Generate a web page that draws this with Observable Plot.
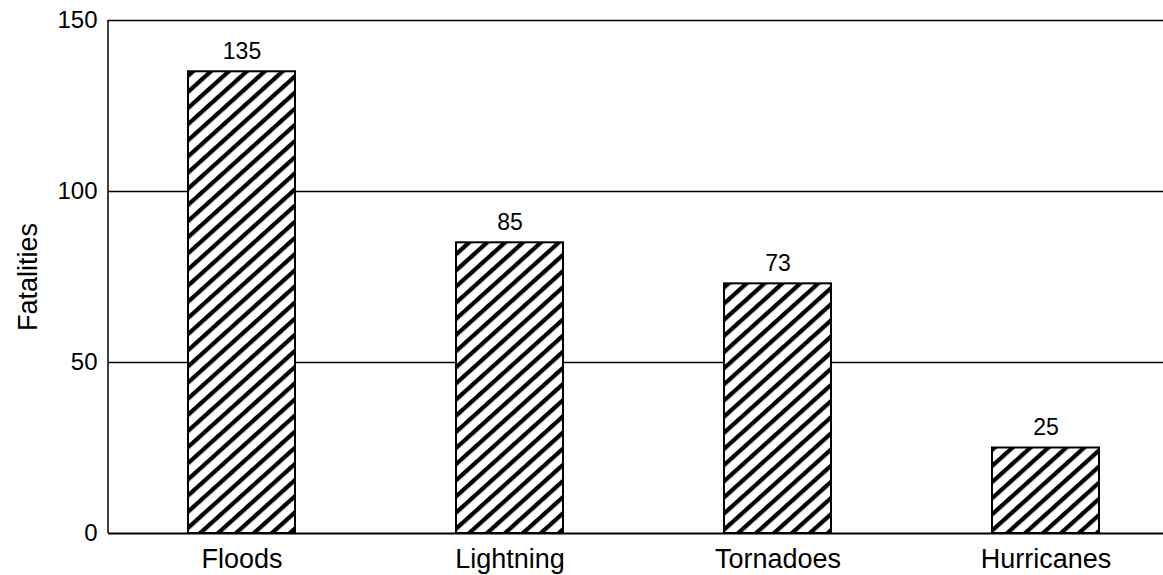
<!DOCTYPE html>
<html>
<head>
<meta charset="utf-8">
<script src="https://cdn.jsdelivr.net/npm/d3@7"></script>
<script src="https://cdn.jsdelivr.net/npm/@observablehq/plot@0.6"></script>
<style>
  html, body { margin: 0; padding: 0; background: white; }
</style>
</head>
<body>
<div id="chart"></div>
<script>
const categories = ["Floods", "Lightning", "Tornadoes", "Hurricanes"];
const fatalities = [135, 85, 73, 25];
const yTicks = [0, 50, 100, 150];
const gridValues = [50, 100, 150];
const yLabel = "Fatalities";

const data = categories.map((c, i) => ({category: c, value: fatalities[i]}));

const marginLeft = 108;

const plot = Plot.plot({
  width: 1163,
  height: 575,
  marginLeft: marginLeft,
  marginRight: 0,
  marginTop: 20,
  marginBottom: 42,
  style: {fontFamily: "'Liberation Sans', Arial, Helvetica, sans-serif", background: "white", color: "black"},
  x: {domain: categories, range: [108, 1180], paddingInner: 0.6, paddingOuter: 0.3},
  y: {domain: [0, 150]},
  marks: [
    Plot.ruleY(gridValues, {stroke: "black", strokeWidth: 1.5}),
    Plot.ruleY([0], {stroke: "black", strokeWidth: 2}),
    Plot.barY(data, {x: "category", y: "value", fill: "url(#hatch)", stroke: "black", strokeWidth: 2}),
    Plot.text(data, {x: "category", y: "value", text: d => String(d.value), dy: -20, fontSize: 23, fill: "black"}),
    Plot.axisY({ticks: yTicks, tickSize: 0, tickPadding: 11, fontSize: 24, label: null}),
    Plot.axisX({tickSize: 0, tickPadding: 15, fontSize: 27, label: null}),
    Plot.text([yLabel], {frameAnchor: "left", textAnchor: "middle", dx: -80, rotate: -90, fontSize: 27, fill: "black"})
  ]
});

// hatch pattern definition and left axis line
const svg = d3.select(plot);
const defs = svg.insert("defs", ":first-child");
const pat = defs.append("pattern")
  .attr("id", "hatch")
  .attr("patternUnits", "userSpaceOnUse")
  .attr("width", 12)
  .attr("height", 12)
  .attr("patternTransform", "rotate(48)");
pat.append("rect").attr("width", 12).attr("height", 12).attr("fill", "white");
pat.append("line").attr("x1", 2).attr("y1", -2).attr("x2", 2).attr("y2", 14)
  .attr("stroke", "black").attr("stroke-width", 4.5);

const y = plot.scale("y");
svg.append("line")
  .attr("x1", marginLeft).attr("x2", marginLeft)
  .attr("y1", y.apply(150)).attr("y2", y.apply(0))
  .attr("stroke", "black").attr("stroke-width", 1.5);

document.getElementById("chart").appendChild(plot);
</script>
</body>
</html>
